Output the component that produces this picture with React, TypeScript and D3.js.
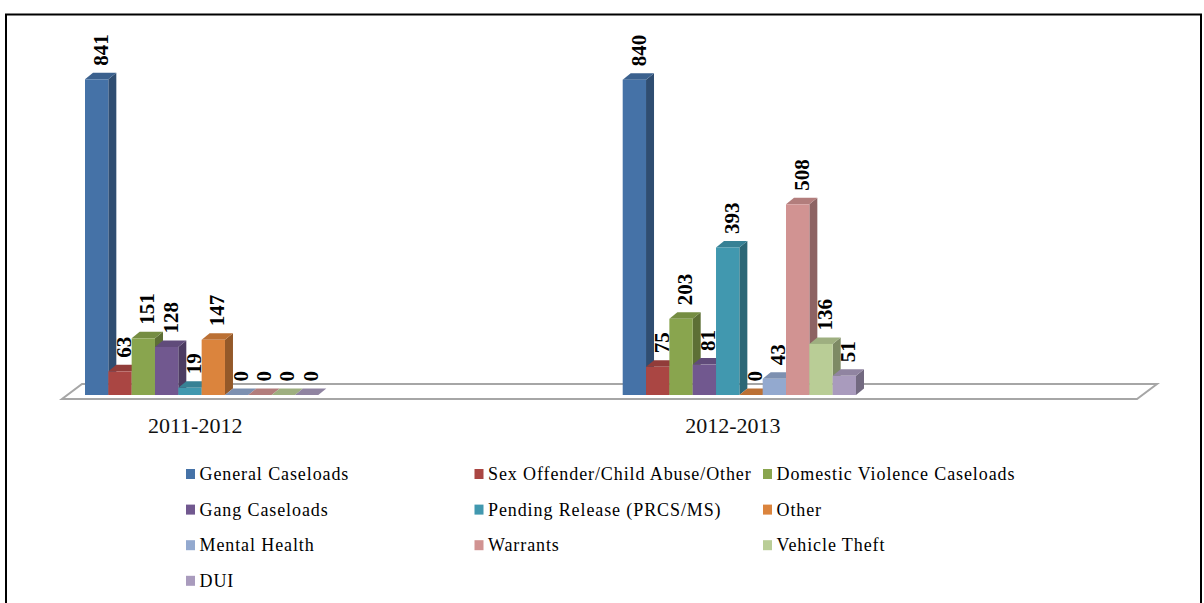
import React, { useEffect, useRef } from "react";
import * as d3 from "d3";

const categories = ["2011-2012", "2012-2013"];
const seriesNames = [
  "General Caseloads",
  "Sex Offender/Child Abuse/Other",
  "Domestic Violence Caseloads",
  "Gang Caseloads",
  "Pending Release (PRCS/MS)",
  "Other",
  "Mental Health",
  "Warrants",
  "Vehicle Theft",
  "DUI",
];
const values2011 = [841, 63, 151, 128, 19, 147, 0, 0, 0, 0];
const values2012 = [840, 75, 203, 81, 393, 0, 43, 508, 136, 51];
const seriesColors = [
  "#4572A7",
  "#AA4643",
  "#89A54E",
  "#71588F",
  "#4198AF",
  "#DB843D",
  "#93A9CF",
  "#D19392",
  "#B9CD96",
  "#A99BBD",
];

const App = () => {
  const chart = useRef<SVGSVGElement>(null);

  useEffect(() => {
    const width = 1204;
    const height = 603;
    const svg = d3.select(chart.current).attr("width", width).attr("height", height);
    svg.selectAll("*").remove();

    const serif = "'Liberation Serif', 'Times New Roman', serif";
    const base = 395;
    const dx = 8;
    const dy = 6.5;

    // frame
    svg
      .append("rect")
      .attr("x", 6)
      .attr("y", 14.5)
      .attr("width", 1195)
      .attr("height", 620)
      .attr("fill", "white")
      .attr("stroke", "black")
      .attr("stroke-width", 2);

    // floor
    const floor: [number, number][] = [
      [62, 399],
      [1137, 399],
      [1157, 384],
      [82, 384],
    ];
    svg
      .append("polygon")
      .attr("points", floor.map((p) => p.join(",")).join(" "))
      .attr("fill", "white")
      .attr("stroke", "#a6a6a6")
      .attr("stroke-width", 2);

    const x0 = d3.scaleBand().domain(categories).range([85, 1160.4]);
    const x1 = d3.scaleBand().domain(seriesNames).range([0, 233.3]);
    const y = d3.scaleLinear().domain([0, 841]).range([base, 79.3]);
    const color = d3.scaleOrdinal<string, string>().domain(seriesNames).range(seriesColors);

    const rows = categories.flatMap((cat, ci) => {
      const vals = ci === 0 ? values2011 : values2012;
      return seriesNames.map((name, si) => ({ cat, name, value: vals[si] }));
    });

    const w = x1.bandwidth();
    const bars = svg.append("g");
    rows.forEach((d) => {
      const x = (x0(d.cat) as number) + (x1(d.name) as number);
      const top = y(d.value);
      const c = color(d.name);
      const g = bars.append("g");
      g.append("polygon")
        .attr(
          "points",
          [
            [x + w, top],
            [x + w + dx, top - dy],
            [x + w + dx, base - dy],
            [x + w, base],
          ]
            .map((p) => p.join(","))
            .join(" ")
        )
        .attr("fill", d3.rgb(c).darker(1.1).formatHex());
      g.append("polygon")
        .attr(
          "points",
          [
            [x, top],
            [x + dx, top - dy],
            [x + w + dx, top - dy],
            [x + w, top],
          ]
            .map((p) => p.join(","))
            .join(" ")
        )
        .attr("fill", d3.rgb(c).darker(0.45).formatHex());
      if (d.value > 0) {
        g.append("rect")
          .attr("x", x)
          .attr("y", top)
          .attr("width", w)
          .attr("height", base - top)
          .attr("fill", c);
      }
    });

    // data labels
    svg
      .append("g")
      .selectAll("text")
      .data(rows)
      .enter()
      .append("text")
      .attr("transform", (d) => {
        const cx = (x0(d.cat) as number) + (x1(d.name) as number) + w / 2 + dx / 2;
        const ty = y(d.value) - dy - 7;
        return "translate(" + cx + "," + ty + ")rotate(-90)";
      })
      .attr("dy", "0.34em")
      .style("font-family", serif)
      .style("font-weight", "bold")
      .style("font-size", "21px")
      .attr("fill", "black")
      .text((d) => d.value);

    // category labels
    svg
      .append("g")
      .selectAll("text")
      .data(categories)
      .enter()
      .append("text")
      .attr("x", (d) => (x0(d) as number) + 233.3 / 2 - 6.5)
      .attr("y", 433)
      .attr("text-anchor", "middle")
      .style("font-family", serif)
      .style("font-size", "22px")
      .attr("fill", "#111")
      .text((d) => d);

    // legend
    const legend = svg
      .append("g")
      .selectAll("g")
      .data(seriesNames)
      .enter()
      .append("g")
      .attr("transform", (d, i) => "translate(" + (186 + (i % 3) * 288.5) + "," + (480 + Math.floor(i / 3) * 35.6) + ")");
    legend
      .append("rect")
      .attr("x", 0)
      .attr("y", -11)
      .attr("width", 9)
      .attr("height", 10)
      .attr("fill", (d) => color(d));
    legend
      .append("text")
      .attr("x", 13.5)
      .attr("y", 0)
      .style("font-family", serif)
      .style("font-size", "18px")
      .style("letter-spacing", "0.9px")
      .attr("fill", "black")
      .text((d) => d);
  }, []);

  return (
    <div style={{ position: "absolute", left: 0, top: 0 }}>
      <svg ref={chart} style={{ display: "block" }}></svg>
    </div>
  );
};

export default App;
